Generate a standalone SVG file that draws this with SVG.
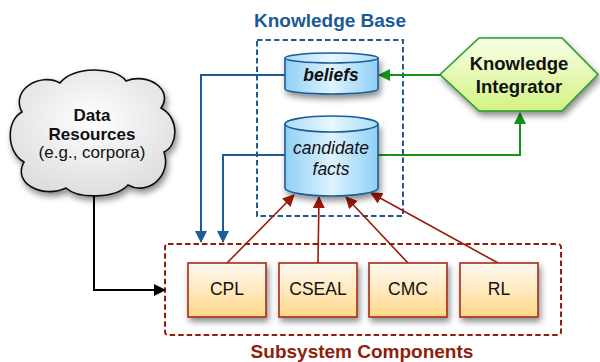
<svg xmlns="http://www.w3.org/2000/svg" width="600" height="362" viewBox="0 0 600 362">
<defs>
  <filter id="sh" x="-20%" y="-20%" width="150%" height="160%">
    <feDropShadow dx="2" dy="4" stdDeviation="3" flood-color="#000" flood-opacity="0.45"/>
  </filter>
  <linearGradient id="gCyl" x1="0" y1="0" x2="1" y2="0">
    <stop offset="0" stop-color="#8fd0f4"/>
    <stop offset="0.5" stop-color="#def3ff"/>
    <stop offset="1" stop-color="#8fd0f4"/>
  </linearGradient>
  <linearGradient id="gCylTop" x1="0" y1="0" x2="1" y2="0">
    <stop offset="0" stop-color="#a8dcf8"/>
    <stop offset="0.5" stop-color="#e8f7ff"/>
    <stop offset="1" stop-color="#a8dcf8"/>
  </linearGradient>
  <linearGradient id="gBox" x1="0" y1="0" x2="0" y2="1">
    <stop offset="0" stop-color="#fffaf3"/>
    <stop offset="1" stop-color="#ffd888"/>
  </linearGradient>
  <linearGradient id="gHex" x1="0" y1="0" x2="0" y2="1">
    <stop offset="0" stop-color="#f8ffe6"/>
    <stop offset="1" stop-color="#d3f383"/>
  </linearGradient>
  <radialGradient id="gCloud" cx="0.5" cy="0.4" r="0.6">
    <stop offset="0" stop-color="#ffffff"/>
    <stop offset="1" stop-color="#dedede"/>
  </radialGradient>
  <marker id="aBlue" markerUnits="userSpaceOnUse" markerWidth="12" markerHeight="12" viewBox="0 0 12 12" refX="11" refY="6" orient="auto">
    <path d="M0,0 L12,6 L0,12 Z" fill="#1d5c98"/>
  </marker>
  <marker id="aGreen" markerUnits="userSpaceOnUse" markerWidth="12" markerHeight="12" viewBox="0 0 12 12" refX="11" refY="6" orient="auto">
    <path d="M0,0 L12,6 L0,12 Z" fill="#169416"/>
  </marker>
  <marker id="aRed" markerUnits="userSpaceOnUse" markerWidth="12" markerHeight="12" viewBox="0 0 12 12" refX="11" refY="6" orient="auto">
    <path d="M0,0 L12,6 L0,12 Z" fill="#9a1a08"/>
  </marker>
  <marker id="aBlack" markerUnits="userSpaceOnUse" markerWidth="12" markerHeight="12" viewBox="0 0 12 12" refX="11" refY="6" orient="auto">
    <path d="M0,0 L12,6 L0,12 Z" fill="#000"/>
  </marker>
</defs>
<style>
  text { font-family: "Liberation Sans", Arial, sans-serif; text-anchor: middle; }
  .title-kb { font-size: 19px; font-weight: bold; fill: #1a5a96; }
  .title-ss { font-size: 19px; font-weight: bold; fill: #8e1d0c; }
  .cyl { fill: url(#gCyl); stroke: #1d5c98; stroke-width: 1.6; }
  .cyltop { fill: url(#gCylTop); stroke: #1d5c98; stroke-width: 1.6; }
  .box { fill: url(#gBox); stroke: #a82a16; stroke-width: 1.6; }
  .boxlbl { font-size: 17.5px; fill: #111; }
  .blue { fill: none; stroke: #1d5c98; stroke-width: 2; marker-end: url(#aBlue); }
  .green { fill: none; stroke: #169416; stroke-width: 2; marker-end: url(#aGreen); }
  .red { fill: none; stroke: #9a1a08; stroke-width: 1.6; marker-end: url(#aRed); }
  .black { fill: none; stroke: #000; stroke-width: 2; marker-end: url(#aBlack); }
</style>

<!-- Knowledge Base container -->
<g id="knowledge-base">
  <rect x="257" y="40" width="146" height="176" fill="none" stroke="#1d5c98" stroke-width="2" stroke-dasharray="5.5,3"/>
  <text class="title-kb" x="330" y="27">Knowledge Base</text>
</g>

<!-- Subsystem container -->
<g id="subsystem-components">
  <rect x="165" y="244" width="396" height="91" rx="3" fill="none" stroke="#9a1a08" stroke-width="2" stroke-dasharray="5.5,3"/>
  <text class="title-ss" x="362" y="358">Subsystem Components</text>
</g>

<!-- Connectors -->
<g id="connectors">
  <path class="blue" d="M285,75 H201 V242"/>
  <path class="blue" d="M285,155 H223 V242"/>
  <path class="green" d="M440,75 H379"/>
  <path class="green" d="M378,155 H520 V113"/>
  <path class="black" d="M94,193 V290 H165"/>
  <path class="red" d="M227,263 L294,195"/>
  <path class="red" d="M318,263 L319,197"/>
  <path class="red" d="M408,263 L346,197"/>
  <path class="red" d="M498,263 L371,193"/>
</g>

<!-- Data Resources cloud -->
<g id="data-resources">
  <path filter="url(#sh)" fill="url(#gCloud)" stroke="#111" stroke-width="1.6"
        d="M22,112 C10,90 40,72 60,83 C72,66 115,66 126,81 C148,72 174,90 161,108 C180,118 178,146 164,152 C172,176 148,196 128,185 C115,199 78,199 66,188 C42,199 12,183 24,162 C6,152 6,120 22,112 Z"/>
  <text x="92" y="121" font-size="17" font-weight="bold" fill="#111">Data</text>
  <text x="92" y="140" font-size="17" font-weight="bold" fill="#111">Resources</text>
  <text x="92" y="158" font-size="17" fill="#111">(e.g., corpora)</text>
</g>

<!-- beliefs -->
<g id="beliefs">
  <path class="cyl" filter="url(#sh)" d="M285,58 V89 A46.5,5 0 0 0 378,89 V58 Z"/>
  <ellipse class="cyltop" cx="331.5" cy="58" rx="46.5" ry="5"/>
  <text x="331" y="81" font-size="17.5" font-weight="bold" font-style="italic" fill="#111">beliefs</text>
</g>

<!-- candidate facts -->
<g id="candidate-facts">
  <path class="cyl" filter="url(#sh)" d="M285,124 V188 A46.5,8 0 0 0 378,188 V124 Z"/>
  <ellipse class="cyltop" cx="331.5" cy="124" rx="46.5" ry="8"/>
  <text x="331" y="154" font-size="17.5" font-style="italic" fill="#111">candidate</text>
  <text x="331" y="175" font-size="17.5" font-style="italic" fill="#111">facts</text>
</g>

<!-- Knowledge Integrator -->
<g id="knowledge-integrator">
  <polygon filter="url(#sh)" points="440,74.5 479,38 562,38 598,74.5 562,111 479,111" fill="url(#gHex)" stroke="#2a9a2a" stroke-width="1.6"/>
  <text x="519" y="70" font-size="18.5" font-weight="bold" fill="#111">Knowledge</text>
  <text x="519" y="93" font-size="18.5" font-weight="bold" fill="#111">Integrator</text>
</g>

<!-- Subsystem boxes -->
<g id="cpl">
  <rect class="box" filter="url(#sh)" x="188" y="263" width="78" height="54"/>
  <text class="boxlbl" x="227" y="295">CPL</text>
</g>
<g id="cseal">
  <rect class="box" filter="url(#sh)" x="279" y="263" width="78" height="54"/>
  <text class="boxlbl" x="318" y="295">CSEAL</text>
</g>
<g id="cmc">
  <rect class="box" filter="url(#sh)" x="369" y="263" width="78" height="54"/>
  <text class="boxlbl" x="408" y="295">CMC</text>
</g>
<g id="rl">
  <rect class="box" filter="url(#sh)" x="460" y="263" width="78" height="54"/>
  <text class="boxlbl" x="499" y="295">RL</text>
</g>
</svg>
